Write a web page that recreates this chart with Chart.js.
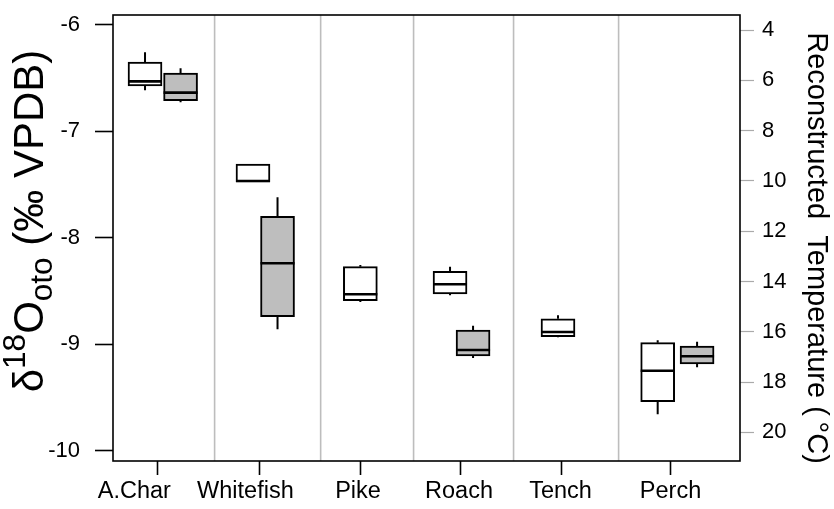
<!DOCTYPE html>
<html>
<head>
<meta charset="utf-8">
<script src="https://cdn.jsdelivr.net/npm/chart.js@4.4.1/dist/chart.umd.min.js"></script>
<style>
  html, body { margin: 0; padding: 0; background: #fff; }
  #wrap { width: 834px; height: 509px; position: relative; }
</style>
</head>
<body>
<div id="wrap"><canvas id="c"></canvas></div>
<script>
// Species, the positions of their tick marks and of their names along the x axis
const categories = ['A.Char', 'Whitefish', 'Pike', 'Roach', 'Tench', 'Perch'];
const categoryAt = [1.00, 2.01, 3.01, 4.00, 5.00, 6.08];
const labelAt    = [0.775, 1.875, 2.990, 3.990, 4.995, 6.084];
const dividers   = [1.57, 2.62, 3.54, 4.53, 5.57];

// Axis ticks
const deltaTicks = [-6, -7, -8, -9, -10];
const tempTicks  = [4, 6, 8, 10, 12, 14, 16, 18, 20];

// Open (white) boxes: position, whisker low, Q1, median, Q3, whisker high
const openPos  = [0.881, 1.950, 3.013, 3.901, 4.970, 5.957];
const openLow  = [-6.616, -7.476, -8.604, -8.541, -8.935, -9.658];
const openQ1   = [-6.576, -7.476, -8.592, -8.529, -8.930, -9.540];
const openMed  = [-6.532, -7.468, -8.531, -8.437, -8.885, -9.249];
const openQ3   = [-6.350, -7.308, -8.272, -8.316, -8.761, -8.986];
const openHigh = [-6.259, -7.308, -8.256, -8.272, -8.729, -8.963];

// Shaded (grey) boxes
const shadePos  = [1.233, 2.193, 4.129, 6.347];
const shadeLow  = [-6.729, -8.860, -9.130, -9.217];
const shadeQ1   = [-6.714, -8.742, -9.111, -9.186];
const shadeMed  = [-6.638, -8.240, -9.055, -9.114];
const shadeQ3   = [-6.454, -7.799, -8.867, -9.017];
const shadeHigh = [-6.409, -7.621, -8.826, -8.977];

// Axis limits (oxygen isotope on the left, temperature on the right)
const deltaMin = -10.097, deltaMax = -5.909;
const tempMin = 3.40, tempMax = 21.14;

const FONT = "'Liberation Sans', Arial, Helvetica, sans-serif";

function boxes(pos, q1, q3) {
  return pos.map((x, i) => ({ x: x, y: [q1[i], q3[i]] }));
}

const series = [
  { pos: openPos,  low: openLow,  med: openMed,  q1: openQ1,  q3: openQ3,  high: openHigh },
  { pos: shadePos, low: shadeLow, med: shadeMed, q1: shadeQ1, q3: shadeQ3, high: shadeHigh }
];

function noPad(s) {
  s.paddingTop = 0; s.paddingBottom = 0; s.paddingLeft = 0; s.paddingRight = 0;
}

const boxParts = {
  id: 'boxParts',
  beforeDatasetsDraw(chart) {
    const { ctx, chartArea: a, scales: { x, y } } = chart;
    ctx.save();
    // separators between species
    ctx.strokeStyle = '#bdbdbd';
    ctx.lineWidth = 1.6;
    dividers.forEach(d => {
      const px = x.getPixelForValue(d);
      ctx.beginPath(); ctx.moveTo(px, a.top); ctx.lineTo(px, a.bottom); ctx.stroke();
    });
    // whiskers
    ctx.strokeStyle = '#000';
    ctx.lineWidth = 2;
    series.forEach(s => {
      s.pos.forEach((p, i) => {
        const px = x.getPixelForValue(p);
        ctx.beginPath();
        ctx.moveTo(px, y.getPixelForValue(s.q3[i])); ctx.lineTo(px, y.getPixelForValue(s.high[i]));
        ctx.moveTo(px, y.getPixelForValue(s.q1[i])); ctx.lineTo(px, y.getPixelForValue(s.low[i]));
        ctx.stroke();
      });
    });
    ctx.restore();
  },
  afterDatasetsDraw(chart) {
    const { ctx, chartArea: a, scales: { y } } = chart;
    ctx.save();
    // medians
    ctx.strokeStyle = '#000';
    ctx.lineWidth = 2.6;
    series.forEach((s, k) => {
      const meta = chart.getDatasetMeta(k);
      meta.data.forEach((bar, i) => {
        const py = y.getPixelForValue(s.med[i]);
        ctx.beginPath();
        ctx.moveTo(bar.x - bar.width / 2, py); ctx.lineTo(bar.x + bar.width / 2, py);
        ctx.stroke();
      });
    });
    // plot frame
    ctx.lineWidth = 1.6;
    ctx.strokeRect(a.left, a.top, a.right - a.left, a.bottom - a.top);
    ctx.restore();
  },
  afterDraw(chart) {
    const { ctx, chartArea: a, scales: { x } } = chart;

    // species names under the axis
    ctx.save();
    ctx.fillStyle = '#000';
    ctx.font = '23.5px ' + FONT;
    ctx.textAlign = 'center';
    ctx.textBaseline = 'middle';
    categories.forEach((name, i) => {
      ctx.fillText(name, x.getPixelForValue(labelAt[i]), a.bottom + 31);
    });
    ctx.restore();

    // left title with super- and subscripts
    ctx.save();
    ctx.fillStyle = '#000';
    ctx.textBaseline = 'alphabetic';
    const F = 42;
    const parts = [
      { t: '\u03b4', s: F, dy: 0 },
      { t: '18', s: F * 0.75, dy: -F * 0.42 },
      { t: 'O', s: F, dy: 0 },
      { t: 'oto', s: F * 0.75, dy: F * 0.22 },
      { t: ' (\u2030 VPDB)', s: F, dy: 0 }
    ];
    let total = 0;
    parts.forEach(p => { ctx.font = p.s + 'px ' + FONT; p.w = ctx.measureText(p.t).width; total += p.w; });
    ctx.translate(43, 221);
    ctx.rotate(-Math.PI / 2);
    let cx = -total / 2;
    ctx.textAlign = 'left';
    parts.forEach(p => { ctx.font = p.s + 'px ' + FONT; ctx.fillText(p.t, cx, p.dy); cx += p.w; });
    ctx.restore();

    // right title
    ctx.save();
    ctx.fillStyle = '#000';
    ctx.font = '29px ' + FONT;
    ctx.textAlign = 'center';
    ctx.textBaseline = 'alphabetic';
    ctx.translate(808, 248);
    ctx.rotate(Math.PI / 2);
    ctx.fillText('Reconstructed  Temperature (\u2009\u00b0C)', 0, 0);
    ctx.restore();
  }
};

new Chart(document.getElementById('c'), {
  type: 'bar',
  data: {
    datasets: [
      {
        data: boxes(openPos, openQ1, openQ3),
        backgroundColor: '#ffffff', borderColor: '#000', borderWidth: 2,
        borderSkipped: false, barThickness: 34, grouped: false, yAxisID: 'y'
      },
      {
        data: boxes(shadePos, shadeQ1, shadeQ3),
        backgroundColor: '#bebebe', borderColor: '#000', borderWidth: 2,
        borderSkipped: false, barThickness: 34, grouped: false, yAxisID: 'y'
      }
    ]
  },
  options: {
    responsive: true,
    maintainAspectRatio: false,
    animation: false,
    layout: { padding: { top: 15, left: 0, right: 0, bottom: 0 } },
    plugins: { legend: { display: false }, tooltip: { enabled: false } },
    scales: {
      x: {
        type: 'linear', min: 0.564, max: 6.772, offset: false,
        afterBuildTicks: s => { s.ticks = categoryAt.map(v => ({ value: v })); },
        afterFit: s => { s.height = 48; noPad(s); },
        ticks: { display: false },
        grid: { drawOnChartArea: false, offset: false, tickLength: 14, tickColor: '#000', tickWidth: 1.6 },
        border: { display: false }
      },
      y: {
        type: 'linear', position: 'left', min: deltaMin, max: deltaMax,
        afterBuildTicks: s => { s.ticks = deltaTicks.map(v => ({ value: v })); },
        afterFit: s => { s.width = 113; noPad(s); },
        ticks: { color: '#000', padding: 15, font: { family: FONT, size: 22 } },
        grid: { drawOnChartArea: false, tickLength: 18, tickColor: '#000', tickWidth: 1.6 },
        border: { display: false }
      },
      y2: {
        type: 'linear', position: 'right', min: tempMin, max: tempMax, reverse: true,
        afterBuildTicks: s => { s.ticks = tempTicks.map(v => ({ value: v })); },
        afterFit: s => { s.width = 94; noPad(s); },
        ticks: { color: '#000', padding: 8, font: { family: FONT, size: 22 } },
        grid: { drawOnChartArea: false, tickLength: 14, tickColor: '#aaaaaa', tickWidth: 1.2 },
        border: { display: false }
      }
    }
  },
  plugins: [boxParts]
});
</script>
</body>
</html>
